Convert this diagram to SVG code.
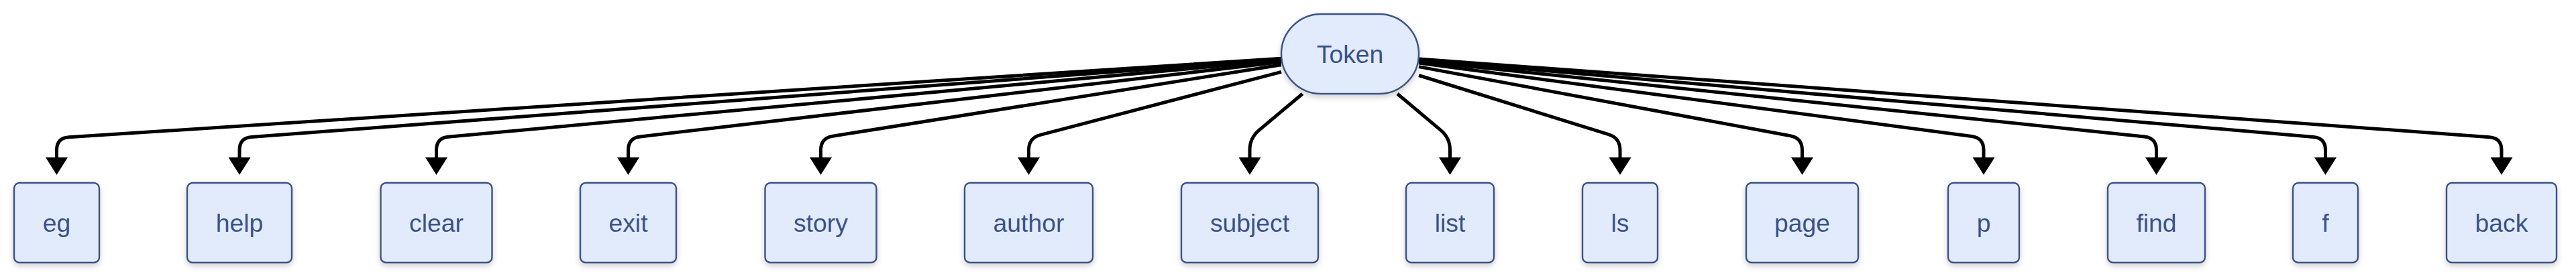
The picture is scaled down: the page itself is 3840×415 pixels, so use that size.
<svg xmlns="http://www.w3.org/2000/svg" width="3840" height="415" viewBox="0 0 3840 415">
<style>
.node rect{fill:#e2ebfc;stroke:#3a5285;stroke-width:2.4}
.node text{font-family:"Liberation Sans",Arial,sans-serif;font-size:37.3px;fill:#3a5285;text-anchor:middle}
.edge{fill:none;stroke:#000;stroke-width:5;marker-end:url(#arrow)}
</style>
<defs>
<marker id="arrow" markerUnits="userSpaceOnUse" markerWidth="26" markerHeight="33" refX="0" refY="16.5" orient="auto" viewBox="0 0 26 33">
<path d="M0,0 L26,16.5 L0,33 z" fill="#000"/>
</marker>
<filter id="sh" x="-20%" y="-20%" width="140%" height="150%">
<feDropShadow dx="0" dy="4" stdDeviation="4" flood-color="#000" flood-opacity="0.18"/>
</filter>
</defs>
<rect width="3840" height="415" fill="#fff"/>
<g id="connectors">
<path class="edge" d="M1910,87.2 L102.5,204.8 Q84.5,206 84.5,224 L84.5,235"/>
<path class="edge" d="M1910,88.3 L374.9,204.6 Q357,206 357,224 L357,235"/>
<path class="edge" d="M1910,89.9 L668.4,204.3 Q650.5,206 650.5,224 L650.5,235"/>
<path class="edge" d="M1910,92.5 L954.4,203.9 Q936.5,206 936.5,224 L936.5,235"/>
<path class="edge" d="M1910,96.8 L1241.3,203.2 Q1223.5,206 1223.5,224 L1223.5,235"/>
<path class="edge" d="M1910,107.4 L1550.9,201.4 Q1533.5,206 1533.5,224 L1533.5,235"/>
<path class="edge" d="M1941.6,140 L1876.8,194.4 Q1863,206 1863,224 L1863,235"/>
<path class="edge" d="M2083.1,140 L2147.7,194.4 Q2161.5,206 2161.5,224 L2161.5,235"/>
<path class="edge" d="M2115,112.5 L2397.8,200.6 Q2415,206 2415,224 L2415,235"/>
<path class="edge" d="M2115,99.6 L2668.8,202.7 Q2686.5,206 2686.5,224 L2686.5,235"/>
<path class="edge" d="M2115,94.1 L2939.2,203.6 Q2957,206 2957,224 L2957,235"/>
<path class="edge" d="M2115,91.2 L3196.6,204.1 Q3214.5,206 3214.5,224 L3214.5,235"/>
<path class="edge" d="M2115,89.3 L3448.6,204.5 Q3466.5,206 3466.5,224 L3466.5,235"/>
<path class="edge" d="M2115,88 L3711,204.7 Q3729,206 3729,224 L3729,235"/>
</g>
<g id="node-Token" class="node"><rect x="1910" y="21" width="205" height="119" rx="59.5" ry="59.5" filter="url(#sh)"/><text x="2012.5" y="93.5">Token</text></g>
<g id="node-eg" class="node"><rect x="21" y="273" width="127" height="119" rx="8" filter="url(#sh)"/><text x="84.5" y="345.5">eg</text></g>
<g id="node-help" class="node"><rect x="279" y="273" width="156" height="119" rx="8" filter="url(#sh)"/><text x="357" y="345.5">help</text></g>
<g id="node-clear" class="node"><rect x="567.5" y="273" width="166" height="119" rx="8" filter="url(#sh)"/><text x="650.5" y="345.5">clear</text></g>
<g id="node-exit" class="node"><rect x="865" y="273" width="143" height="119" rx="8" filter="url(#sh)"/><text x="936.5" y="345.5">exit</text></g>
<g id="node-story" class="node"><rect x="1140.5" y="273" width="166" height="119" rx="8" filter="url(#sh)"/><text x="1223.5" y="345.5">story</text></g>
<g id="node-author" class="node"><rect x="1438" y="273" width="191" height="119" rx="8" filter="url(#sh)"/><text x="1533.5" y="345.5">author</text></g>
<g id="node-subject" class="node"><rect x="1761" y="273" width="204" height="119" rx="8" filter="url(#sh)"/><text x="1863" y="345.5">subject</text></g>
<g id="node-list" class="node"><rect x="2096" y="273" width="131" height="119" rx="8" filter="url(#sh)"/><text x="2161.5" y="345.5">list</text></g>
<g id="node-ls" class="node"><rect x="2359" y="273" width="112" height="119" rx="8" filter="url(#sh)"/><text x="2415" y="345.5">ls</text></g>
<g id="node-page" class="node"><rect x="2603" y="273" width="167" height="119" rx="8" filter="url(#sh)"/><text x="2686.5" y="345.5">page</text></g>
<g id="node-p" class="node"><rect x="2904" y="273" width="106" height="119" rx="8" filter="url(#sh)"/><text x="2957" y="345.5">p</text></g>
<g id="node-find" class="node"><rect x="3142" y="273" width="145" height="119" rx="8" filter="url(#sh)"/><text x="3214.5" y="345.5">find</text></g>
<g id="node-f" class="node"><rect x="3418" y="273" width="97" height="119" rx="8" filter="url(#sh)"/><text x="3466.5" y="345.5">f</text></g>
<g id="node-back" class="node"><rect x="3647" y="273" width="164" height="119" rx="8" filter="url(#sh)"/><text x="3729" y="345.5">back</text></g>
</svg>
